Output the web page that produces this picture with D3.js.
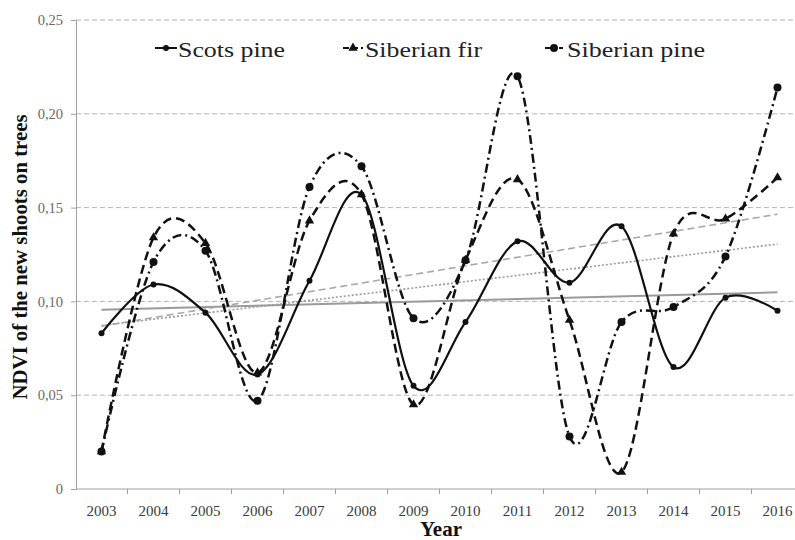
<!DOCTYPE html>
<html>
<head>
<meta charset="utf-8">
<script src="https://cdn.jsdelivr.net/npm/d3@7"></script>
<style>
  body { margin: 0; background: #fff; }
  text { font-family: "Liberation Serif", "Times New Roman", serif; }
</style>
</head>
<body>
<script>
// data
const years = [2003, 2004, 2005, 2006, 2007, 2008, 2009, 2010, 2011, 2012, 2013, 2014, 2015, 2016];
const scotsPine = [0.083, 0.109, 0.094, 0.061, 0.111, 0.157, 0.055, 0.089, 0.132, 0.110, 0.140, 0.065, 0.102, 0.095];
const siberianFir = [0.020, 0.134, 0.131, 0.062, 0.143, 0.157, 0.045, 0.122, 0.165, 0.090, 0.009, 0.136, 0.144, 0.166];
const siberianPine = [0.020, 0.121, 0.127, 0.047, 0.161, 0.172, 0.091, 0.122, 0.220, 0.028, 0.089, 0.097, 0.124, 0.214];
const seriesNames = ["Scots pine", "Siberian fir", "Siberian pine"];
const yTicks = [0, 0.05, 0.10, 0.15, 0.20, 0.25];

document.addEventListener('DOMContentLoaded', function() {
    const width = 795;
    const height = 540;

    const svg = d3.select("body").append("svg")
        .attr("width", width)
        .attr("height", height);

    const x = d3.scaleBand()
        .domain(years)
        .range([75.5, 803.5])
        .padding(0);

    const y = d3.scaleLinear()
        .domain([0, 0.25])
        .range([489, 20]);

    const cx = d => x(d) + x.bandwidth() / 2;

    const series = [
        {name: seriesNames[0], values: scotsPine, dash: null, width: 2.2, marker: "dot",
         trendDash: null, trendColor: "#9a9a9a", trendWidth: 2},
        {name: seriesNames[1], values: siberianFir, dash: "9,5", width: 2.5, marker: "triangle",
         trendDash: "2,2", trendColor: "#9a9a9a", trendWidth: 1.6},
        {name: seriesNames[2], values: siberianPine, dash: "9,4,2,4", width: 2.5, marker: "circle",
         trendDash: "7,4", trendColor: "#a8a8a8", trendWidth: 1.6}
    ];

    // gridlines
    svg.append("g")
        .selectAll("line")
        .data(yTicks.slice(1))
        .join("line")
        .attr("x1", 76)
        .attr("x2", width)
        .attr("y1", d => y(d))
        .attr("y2", d => y(d))
        .attr("stroke", "#b5b5b5")
        .attr("stroke-width", 1)
        .attr("stroke-dasharray", "5,3");

    // left axis
    const yAxis = d3.axisLeft(y)
        .tickValues(yTicks)
        .tickSize(5)
        .tickPadding(8)
        .tickFormat(d => d === 0 ? "0" : d3.format(".2f")(d).replace(".", ","));

    const gy = svg.append("g")
        .attr("transform", "translate(76,0)")
        .call(yAxis);
    gy.select(".domain").attr("stroke", "#a0a0a0");
    gy.selectAll(".tick line").attr("stroke", "#a0a0a0");
    gy.selectAll(".tick text")
        .attr("fill", "#6a6a6a")
        .style("font-size", "14.5px")
        .style("font-family", "'Liberation Serif', serif");

    // bottom axis
    svg.append("line")
        .attr("x1", 76)
        .attr("x2", width)
        .attr("y1", y(0))
        .attr("y2", y(0))
        .attr("stroke", "#a0a0a0");

    svg.append("g")
        .selectAll("line")
        .data(years.slice(1))
        .join("line")
        .attr("x1", d => x(d))
        .attr("x2", d => x(d))
        .attr("y1", y(0))
        .attr("y2", y(0) + 5)
        .attr("stroke", "#a0a0a0");

    const xAxis = d3.axisBottom(x).tickSize(0).tickPadding(16);
    const gx = svg.append("g")
        .attr("transform", `translate(0,${y(0)})`)
        .call(xAxis);
    gx.select(".domain").remove();
    gx.selectAll(".tick text")
        .attr("fill", "#3a3a3a")
        .style("font-size", "15px")
        .style("font-family", "'Liberation Serif', serif");

    // axis titles
    svg.append("text")
        .attr("x", 441)
        .attr("y", 536)
        .attr("text-anchor", "middle")
        .attr("font-weight", "bold")
        .attr("font-size", 21)
        .attr("fill", "#111")
        .text("Year");

    svg.append("text")
        .attr("transform", "translate(27,257) rotate(-90)")
        .attr("text-anchor", "middle")
        .attr("font-weight", "bold")
        .attr("font-size", 21)
        .attr("fill", "#111")
        .attr("textLength", 285)
        .attr("lengthAdjust", "spacingAndGlyphs")
        .text("NDVI of the new shoots on trees");

    // linear trend lines (least squares on each series)
    function trend(values) {
        const n = values.length;
        const mx = d3.mean(d3.range(n));
        const my = d3.mean(values);
        let sxy = 0, sxx = 0;
        values.forEach((v, i) => {
            sxy += (i - mx) * (v - my);
            sxx += (i - mx) * (i - mx);
        });
        const slope = sxy / sxx;
        return [my - slope * mx, my + slope * (n - 1 - mx)];
    }

    series.forEach(s => {
        const t = trend(s.values);
        svg.append("line")
            .attr("x1", cx(years[0]))
            .attr("x2", cx(years[years.length - 1]))
            .attr("y1", y(t[0]))
            .attr("y2", y(t[1]))
            .attr("stroke", s.trendColor)
            .attr("stroke-width", s.trendWidth)
            .attr("stroke-dasharray", s.trendDash);
    });

    // smoothed series lines
    const line = d3.line()
        .x((d, i) => cx(years[i]))
        .y(d => y(d))
        .curve(d3.curveCardinal.tension(0));

    function drawMarker(g, kind, px, py) {
        if (kind === "triangle") {
            g.append("path")
                .attr("d", d3.symbol(d3.symbolTriangle).size(38)())
                .attr("transform", `translate(${px},${py})`)
                .attr("fill", "#111");
        } else {
            g.append("circle")
                .attr("cx", px)
                .attr("cy", py)
                .attr("r", kind === "dot" ? 3 : 4)
                .attr("fill", "#111");
        }
    }

    series.forEach(s => {
        svg.append("path")
            .datum(s.values)
            .attr("d", line)
            .attr("fill", "none")
            .attr("stroke", "#111")
            .attr("stroke-width", s.width)
            .attr("stroke-dasharray", s.dash);

        const g = svg.append("g");
        s.values.forEach((v, i) => drawMarker(g, s.marker, cx(years[i]), y(v)));
    });

    // legend
    const legendPos = [
        {x1: 155, x2: 177, tx: 178, tw: 107},
        {x1: 343, x2: 363, tx: 365, tw: 117},
        {x1: 545, x2: 563, tx: 567, tw: 138}
    ];

    series.forEach((s, i) => {
        const p = legendPos[i];
        const g = svg.append("g");
        g.append("line")
            .attr("x1", p.x1)
            .attr("x2", p.x2)
            .attr("y1", 48)
            .attr("y2", 48)
            .attr("stroke", "#111")
            .attr("stroke-width", 2)
            .attr("stroke-dasharray", i === 0 ? null : (i === 1 ? "6,3" : "6,3,2,3"));
        drawMarker(g, s.marker === "dot" ? "dot" : s.marker, (p.x1 + p.x2) / 2, 48);
        g.append("text")
            .attr("x", p.tx)
            .attr("y", 57)
            .attr("font-size", 21)
            .attr("fill", "#222")
            .attr("textLength", p.tw)
            .attr("lengthAdjust", "spacingAndGlyphs")
            .text(s.name);
    });
});
</script>
</body>
</html>
